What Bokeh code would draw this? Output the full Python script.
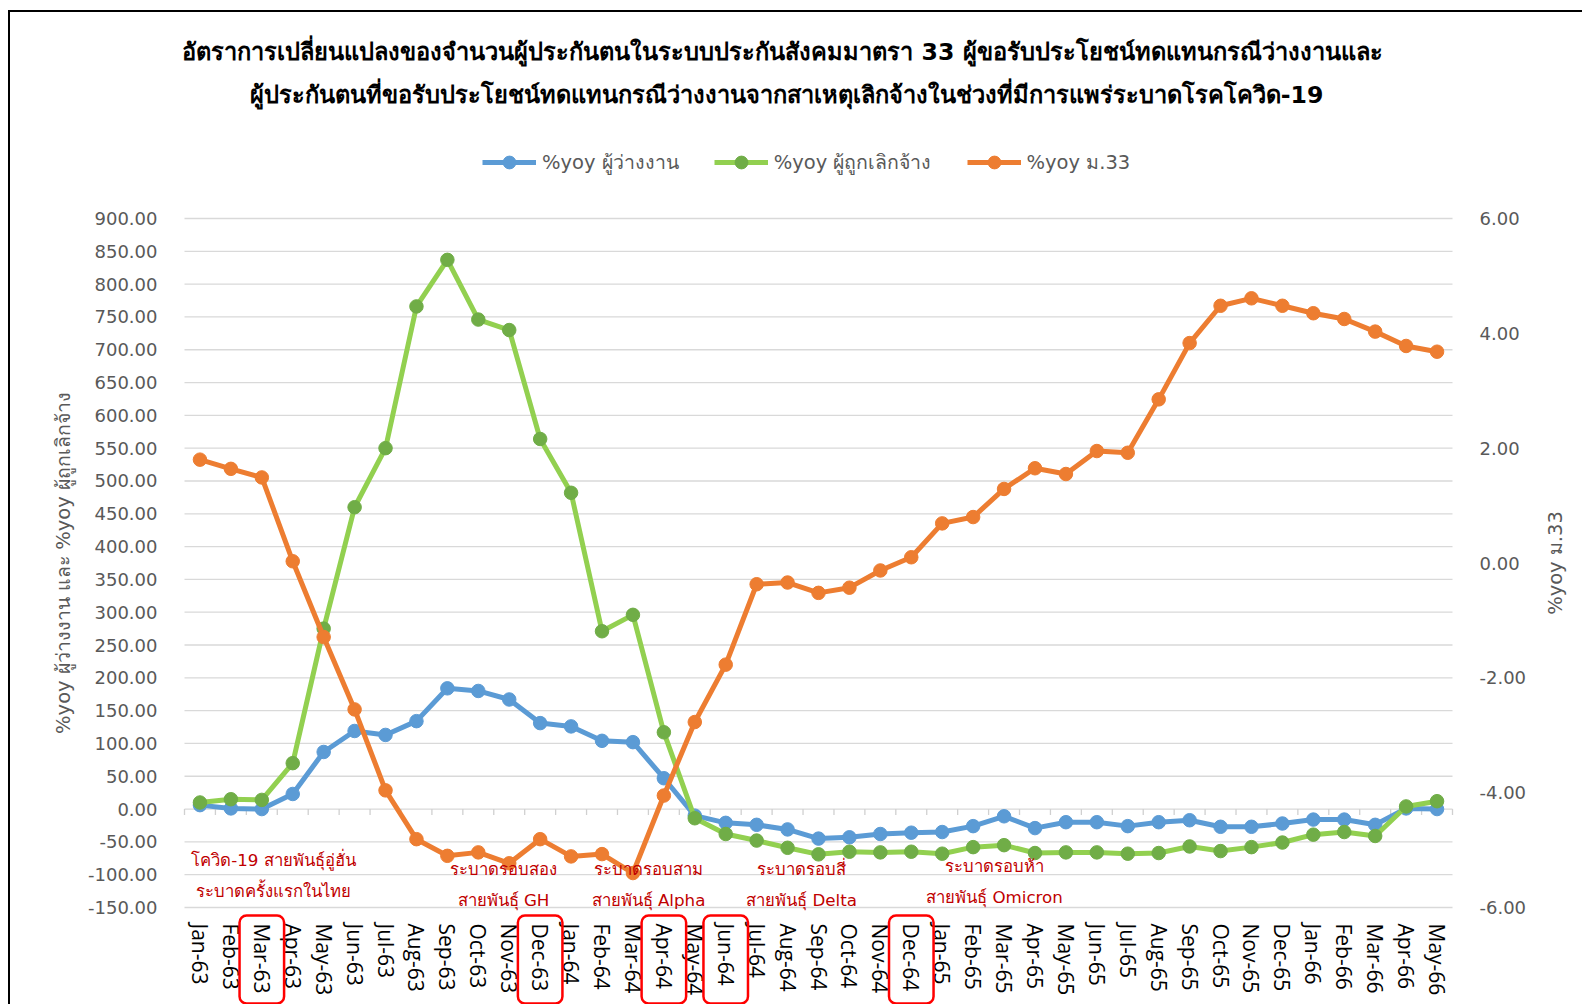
from math import pi
from bokeh.plotting import figure
from bokeh.models import (Range1d, LinearAxis, FixedTicker, PrintfTickFormatter,
                          Legend, LegendItem, Label, BoxAnnotation)
from bokeh.embed import file_html
from bokeh.resources import INLINE

# ---------------- data ----------------
months = ["Jan-63", "Feb-63", "Mar-63", "Apr-63", "May-63", "Jun-63", "Jul-63", "Aug-63",
          "Sep-63", "Oct-63", "Nov-63", "Dec-63", "Jan-64", "Feb-64", "Mar-64", "Apr-64",
          "May-64", "Jun-64", "Jul-64", "Aug-64", "Sep-64", "Oct-64", "Nov-64", "Dec-64",
          "Jan-65", "Feb-65", "Mar-65", "Apr-65", "May-65", "Jun-65", "Jul-65", "Aug-65",
          "Sep-65", "Oct-65", "Nov-65", "Dec-65", "Jan-66", "Feb-66", "Mar-66", "Apr-66",
          "May-66"]

# %yoy ผู้ว่างงาน (left axis)
unemployed = [6, 1, 0, 23, 87, 119, 113, 134, 184, 180, 167, 131, 126, 104, 102, 47,
              -10, -21, -24, -31, -45, -43, -38, -36, -35, -26, -11, -29, -20, -20, -26,
              -20, -17, -27, -27, -22, -16, -16, -24, 1, 0]

# %yoy ผู้ถูกเลิกจ้าง (left axis)
laid_off = [10, 15, 14, 70, 275, 460, 550, 766, 837, 746, 730, 564, 482, 271, 296, 117,
            -14, -38, -48, -59, -69, -65, -66, -65, -68, -58, -55, -67, -66, -66, -68,
            -67, -57, -64, -58, -51, -39, -35, -41, 4, 12]

# %yoy ม.33 (right axis)
m33 = [1.80, 1.64, 1.49, 0.03, -1.29, -2.55, -3.96, -4.81, -5.10, -5.04, -5.23, -4.81,
       -5.11, -5.07, -5.40, -4.05, -2.77, -1.77, -0.37, -0.34, -0.52, -0.43, -0.13, 0.10,
       0.69, 0.80, 1.29, 1.65, 1.55, 1.95, 1.92, 2.85, 3.83, 4.48, 4.61, 4.48, 4.35, 4.25,
       4.03, 3.78, 3.68]

left_ticks = list(range(-150, 901, 50))
right_ticks = [-6, -4, -2, 0, 2, 4, 6]

highlighted = ["Mar-63", "Dec-63", "Apr-64", "Jun-64", "Dec-64"]

wave_line1 = ["โควิด-19 สายพันธุ์อู่ฮั่น", "ระบาดรอบสอง", "ระบาดรอบสาม", "ระบาดรอบสี่", "ระบาดรอบห้า"]
wave_line2 = ["ระบาดครั้งแรกในไทย", "สายพันธุ์ GH", "สายพันธุ์ Alpha", "สายพันธุ์ Delta", "สายพันธุ์ Omicron"]

title1 = "อัตราการเปลี่ยนแปลงของจำนวนผู้ประกันตนในระบบประกันสังคมมาตรา  33 ผู้ขอรับประโยชน์ทดแทนกรณีว่างงานและ"
title2 = "ผู้ประกันตนที่ขอรับประโยชน์ทดแทนกรณีว่างงานจากสาเหตุเลิกจ้างในช่วงที่มีการแพร่ระบาดโรคโควิด-19"
names = ["%yoy ผู้ว่างงาน", "%yoy ผู้ถูกเลิกจ้าง", "%yoy ม.33"]
left_title = "%yoy ผู้ว่างงาน และ %yoy ผู้ถูกเลิกจ้าง"
right_title = "%yoy ม.33"

# ---------------- layout (page pixels) ----------------
OX, OY = 10, 12            # canvas origin on the page
W, H = 1574, 994           # canvas size
PL, PR, PT, PB = 184, 1452, 218, 907   # plotting area on the page

n = len(months)
per = (PR - PL) / n
upp = (left_ticks[-1] - left_ticks[0]) / (PB - PT)
rpp = (right_ticks[-1] - right_ticks[0]) / (PB - PT)

x_lo = -0.5 - (PL - OX) / per
x_hi = -0.5 + (OX + W - PL) / per
y_hi = left_ticks[-1] + (PT - OY) * upp
y_lo = left_ticks[0] - (OY + H - PB) * upp
r_hi = right_ticks[-1] + (PT - OY) * rpp
r_lo = right_ticks[0] - (OY + H - PB) * rpp


def X(px):
    return -0.5 + (px - PL) / per


def Y(py):
    return left_ticks[-1] - (py - PT) * upp


BLUE, GREEN_L, GREEN_M, ORANGE = "#5B9BD5", "#92D050", "#70AD47", "#ED7D31"
GRAY_TXT = "#595959"
RED_TXT = "#C00000"
FONT = "DejaVu Sans"

xs = list(range(n))

p = figure(width=W, height=H, output_backend="svg", toolbar_location=None,
           x_range=Range1d(x_lo, x_hi), y_range=Range1d(y_lo, y_hi),
           min_border=0, min_border_left=0, min_border_right=0,
           min_border_top=0, min_border_bottom=0)
p.extra_y_ranges = {"r": Range1d(r_lo, r_hi)}
p.outline_line_color = None
p.background_fill_color = "white"
p.border_fill_color = "white"
p.styles = {"margin-left": "8px", "margin-top": "10px",
            "border-left": "2px solid #000000", "border-top": "2px solid #000000"}

p.xgrid.grid_line_color = None
p.ygrid.grid_line_color = None

# horizontal gridlines at the left-axis ticks, limited to the plotting area
p.segment(x0=[-0.5] * len(left_ticks), y0=left_ticks, x1=[n - 0.5] * len(left_ticks),
          y1=left_ticks, line_color="#D9D9D9", line_width=1.3)

# x axis (labels under the plotting area)
xa = p.xaxis[0]
xa.fixed_location = left_ticks[0]
xa.ticker = FixedTicker(ticks=xs)
xa.major_label_overrides = {i: m for i, m in enumerate(months)}
xa.major_label_orientation = "vertical"
xa.major_label_text_font = "Open Sans"
xa.major_label_text_font_size = "21px"
xa.major_label_text_color = "#000000"
xa.major_label_standoff = 10
xa.axis_line_color = None
xa.major_tick_line_color = None
xa.minor_tick_line_color = None

# left axis
ya = p.yaxis[0]
ya.fixed_location = -0.5
ya.ticker = FixedTicker(ticks=left_ticks)
ya.formatter = PrintfTickFormatter(format="%.2f")
ya.major_label_text_font = FONT
ya.major_label_text_font_size = "18px"
ya.major_label_text_color = GRAY_TXT
ya.major_label_standoff = 21
ya.axis_line_color = None
ya.major_tick_line_color = None
ya.minor_tick_line_color = None

# right axis
ra = LinearAxis(y_range_name="r", ticker=FixedTicker(ticks=right_ticks),
                formatter=PrintfTickFormatter(format="%.2f"), fixed_location=n - 0.5)
ra.major_label_text_font = FONT
ra.major_label_text_font_size = "18px"
ra.major_label_text_color = GRAY_TXT
ra.major_label_standoff = 21
ra.axis_line_color = None
ra.major_tick_line_color = None
ra.minor_tick_line_color = None
p.add_layout(ra, "right")

# tick marks on the zero line at category boundaries
bounds = [i - 0.5 for i in range(n + 1)]
p.segment(x0=bounds, y0=[0] * len(bounds), x1=bounds, y1=[-9] * len(bounds),
          line_color="#D0D0D0", line_width=1.3)

# series
LW, MS = 5, 13.5
bl = p.line(xs, unemployed, line_color=BLUE, line_width=LW)
bs = p.scatter(xs, unemployed, size=MS, fill_color=BLUE, line_color=BLUE)
gl = p.line(xs, laid_off, line_color=GREEN_L, line_width=LW)
gs = p.scatter(xs, laid_off, size=MS, fill_color=GREEN_M, line_color=GREEN_M)
ol = p.line(xs, m33, line_color=ORANGE, line_width=LW, y_range_name="r")
os_ = p.scatter(xs, m33, size=MS, fill_color=ORANGE, line_color=ORANGE, y_range_name="r")

GH = 32
legend = Legend(items=[LegendItem(label=names[0], renderers=[bl, bs]),
                       LegendItem(label=names[1], renderers=[gl, gs]),
                       LegendItem(label=names[2], renderers=[ol, os_])],
                orientation="horizontal", location=(482 - OX, OY + H - (162 + GH / 2)),
                glyph_width=54, glyph_height=GH, label_standoff=6, spacing=35,
                padding=0, margin=0, border_line_color=None, background_fill_alpha=0,
                label_text_font=FONT, label_text_font_size="19.5px",
                label_text_color=GRAY_TXT, label_height=GH)
p.add_layout(legend)

# highlighted month boxes
for m in highlighted:
    i = months.index(m)
    p.add_layout(BoxAnnotation(left=i - 0.72, right=i + 0.72, top=Y(915), bottom=Y(1003),
                               fill_alpha=0, line_color="#FF0000", line_alpha=1.0,
                               line_width=2.5, border_radius=7))

# wave annotations (page positions of the text centres)
wave_px = [273, 503, 648, 801, 994]
wave_py1 = [859, 868, 868, 868, 865]
wave_py2 = [890, 899, 899, 899, 896]
for px, py1, py2, t1, t2 in zip(wave_px, wave_py1, wave_py2, wave_line1, wave_line2):
    for py, t in ((py1, t1), (py2, t2)):
        p.add_layout(Label(x=X(px), y=Y(py), text=t, text_align="center",
                           text_baseline="middle", text_font=FONT,
                           text_font_size="16.7px", text_color=RED_TXT))

# titles
for t, py in ((title1, 51), (title2, 94)):
    p.add_layout(Label(x=X(786), y=Y(py), text=t, text_align="center",
                       text_baseline="middle", text_font=FONT, text_font_size="23.6px",
                       text_font_style="bold", text_color="#000000"))

# axis titles
for t, px in ((left_title, 63), (right_title, 1555)):
    p.add_layout(Label(x=X(px), y=Y((PT + PB) / 2), text=t, angle=pi / 2,
                       text_align="center", text_baseline="middle", text_font=FONT,
                       text_font_size="19.5px", text_color=GRAY_TXT))

open("out.html", "w").write(file_html(p, INLINE))
